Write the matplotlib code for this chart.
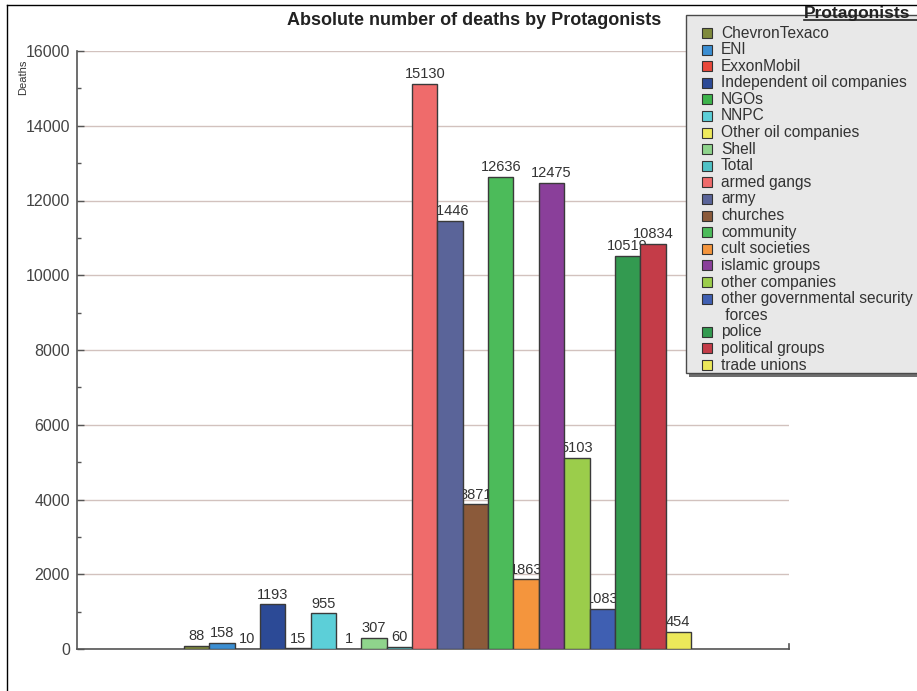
import matplotlib

matplotlib.use("Agg")
import matplotlib.pyplot as plt
from matplotlib.lines import Line2D
from matplotlib.patches import Rectangle
from matplotlib.ticker import MultipleLocator

plt.rcParams["font.family"] = ["Liberation Sans", "DejaVu Sans"]

# data
protagonists = [
    "ChevronTexaco",
    "ENI",
    "ExxonMobil",
    "Independent oil companies",
    "NGOs",
    "NNPC",
    "Other oil companies",
    "Shell",
    "Total",
    "armed gangs",
    "army",
    "churches",
    "community",
    "cult societies",
    "islamic groups",
    "other companies",
    "other governmental security\n forces",
    "police",
    "political groups",
    "trade unions",
]
deaths = [88, 158, 10, 1193, 15, 955, 1, 307, 60, 15130,
          11446, 3871, 12636, 1863, 12475, 5103, 1083, 10519, 10834, 454]
colors = [
    "#7f8a3c", "#3b8ed2", "#e8483a", "#2c4a96", "#3db44c",
    "#5ccfd8", "#eeea5c", "#8fd48c", "#4fc2c6", "#ef6b6b",
    "#5a6499", "#8b5a3a", "#4cbb5a", "#f4953d", "#8a3f9a",
    "#9bcd4b", "#3f5fb2", "#339a50", "#c43c48", "#ece85a",
]
y_ticks = list(range(0, 16001, 2000))

W, H = 917, 691


def fx(x):
    return x / W


def fy(y):
    return 1 - y / H


fig = plt.figure(figsize=(W / 100, H / 100), dpi=100)
fig.patch.set_facecolor("white")

ax = fig.add_axes([fx(77), fy(649), (789 - 77) / W, (649 - 51) / H])
positions = list(range(len(deaths)))

ax.bar(
    positions,
    deaths,
    width=1.0,
    color=colors,
    edgecolor="#3a3a3a",
    linewidth=1.0,
    zorder=3,
)

# labels sit under the bars so taller neighbours clip them
for x, value in zip(positions, deaths):
    ax.annotate(
        str(value),
        (x, value),
        xytext=(0, 2),
        textcoords="offset points",
        ha="center",
        va="bottom",
        fontsize=10.5,
        color="#333333",
        zorder=2,
    )

ax.set_xlim(-4.72, 23.37)
ax.set_ylim(0, 16000)
ax.set_yticks(y_ticks)
ax.yaxis.set_minor_locator(MultipleLocator(1000))
ax.set_xticks([])
ax.tick_params(axis="y", which="major", direction="in", length=5,
               width=1, color="#555555", labelsize=11.5,
               labelcolor="#444444", pad=5)
ax.tick_params(axis="y", which="minor", direction="in", length=3,
               width=1, color="#555555")

ax.set_axisbelow(True)
ax.grid(True, axis="y", color="#d2c2be", linewidth=1.0)

for side in ("top", "right"):
    ax.spines[side].set_visible(False)
for side in ("left", "bottom"):
    ax.spines[side].set_color("#555555")
    ax.spines[side].set_linewidth(1.2)
ax.plot([1, 1], [0, 0.009], transform=ax.transAxes, color="#555555",
        linewidth=1.2, clip_on=False)

fig.text(fx(23), fy(77), "Deaths", rotation=90, fontsize=8,
         ha="center", va="center", color="#333333")

fig.text(fx(474), fy(25), "Absolute number of deaths by Protagonists",
         fontsize=13, fontweight="bold", ha="center", va="baseline",
         color="#222222")

# outer frame of the scanned page
fig.add_artist(Line2D([fx(7), fx(7)], [fy(5), fy(690)], color="black",
                      linewidth=1.0))
fig.add_artist(Line2D([fx(7), 1], [fy(5), fy(5)], color="black",
                      linewidth=1.0))

# legend drawn by hand to follow the reference box
fig.add_artist(Rectangle((fx(689), fy(377)), (940 - 689) / W, (377 - 18) / H,
                         facecolor="#6e6e6e", edgecolor="none"))
fig.add_artist(Rectangle((fx(686), fy(373)), (940 - 686) / W, (373 - 15) / H,
                         facecolor="#e8e8e8", edgecolor="#4a4a4a",
                         linewidth=1.0))

row = 0
pitch = 16.6
for name, color in zip(protagonists, colors):
    yc = 33 + row * pitch
    fig.add_artist(Rectangle((fx(702), fy(yc + 5)), 10 / W, 10 / H,
                             facecolor=color, edgecolor="#333333",
                             linewidth=0.8))
    lines = name.split("\n")
    for k, line in enumerate(lines):
        fig.text(fx(721), fy(yc + k * pitch), line, fontsize=11.2,
                 ha="left", va="center", color="#333333")
    row += len(lines)

fig.text(fx(804), fy(18), "Protagonists", fontsize=12.5, fontweight="bold",
         ha="left", va="baseline", color="#222222")
fig.add_artist(Line2D([fx(804), 1], [fy(20), fy(20)], color="#222222",
                      linewidth=1.2))

fig.savefig("out.png", dpi=100)
plt.close(fig)
